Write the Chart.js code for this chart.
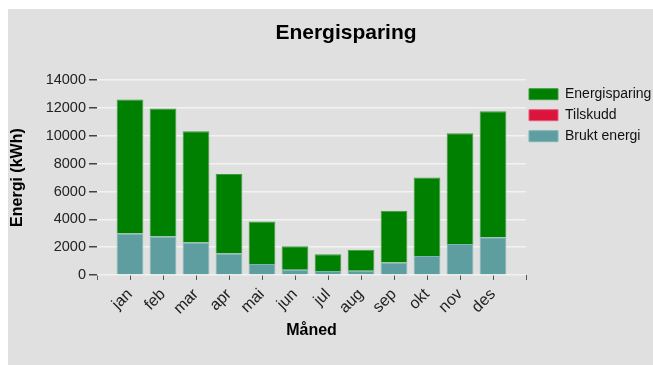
<!DOCTYPE html>
<html>
<head>
<meta charset="utf-8">
<script src="https://cdn.jsdelivr.net/npm/chart.js@4"></script>
<style>
    html, body { margin: 0; padding: 0; background: #fff; overflow: hidden; }
    #panel {
        position: absolute;
        left: 8px;
        top: 9px;
        width: 676px;
        height: 356px;
        background: #e0e0e0;
    }
</style>
</head>
<body>
<div id="panel"><canvas id="chartEnergi"></canvas></div>
<script>
// data (kWh per month)
const maaneder = ['jan', 'feb', 'mar', 'apr', 'mai', 'jun', 'jul', 'aug', 'sep', 'okt', 'nov', 'des'];
const bruktEnergi = [2980, 2760, 2330, 1540, 790, 380, 290, 310, 890, 1370, 2230, 2710];
const tilskudd = [0, 0, 0, 0, 0, 0, 0, 0, 0, 0, 0, 0];
const energisparing = [9630, 9200, 8000, 5710, 3050, 1680, 1200, 1510, 3720, 5640, 7950, 9060];
const yTicks = [0, 2000, 4000, 6000, 8000, 10000, 12000, 14000];

const FONT = "'Liberation Sans', Arial, sans-serif";
const LEGEND_WIDTH = 158;

// empty slot at each end so the axis runs past jan and des
function pad(arr, fill) { return [fill, ...arr, fill]; }

// legend keeps a fixed width so the plot stops where the reference does,
// and sits a little closer to the plot than its row padding would put it
const fixedLegend = {
    id: 'fixedLegend',
    beforeLayout(chart) {
        const lg = chart.legend;
        if (!lg || lg._fixed) return;
        const fit = lg.fit;
        lg.fit = function () {
            fit.call(this);
            this.width = LEGEND_WIDTH;
        };
        lg._fixed = true;
    },
    afterLayout(chart) {
        const lg = chart.legend;
        if (!lg) return;
        lg.left -= 4;
        lg.right -= 4;
    }
};

function makeChart() {
    const ctx = document.getElementById('chartEnergi').getContext('2d');
    return new Chart(ctx, {
        type: 'bar',
        data: {
            labels: pad(maaneder, ''),
            datasets: [
                { label: 'Brukt energi', data: pad(bruktEnergi, null), backgroundColor: '#5f9ea0', borderColor: '#7fb3b5', borderWidth: 1 },
                { label: 'Tilskudd', data: pad(tilskudd, null), backgroundColor: '#dc143c', borderColor: '#e8587a', borderWidth: 1 },
                { label: 'Energisparing', data: pad(energisparing, null), backgroundColor: '#008000', borderColor: '#3f9a3f', borderWidth: 1 }
            ]
        },
        plugins: [fixedLegend],
        options: {
            responsive: true,
            maintainAspectRatio: false,
            animation: false,
            categoryPercentage: 1,
            barPercentage: 0.81,
            layout: { padding: 0 },
            plugins: {
                tooltip: { enabled: false },
                title: {
                    display: true,
                    text: 'Energisparing',
                    color: '#000',
                    font: { family: FONT, size: 21, weight: 'bold' },
                    padding: { top: 12, bottom: 34 }
                },
                legend: {
                    position: 'right',
                    align: 'start',
                    fullSize: false,
                    reverse: true,
                    labels: {
                        boxWidth: 29,
                        boxHeight: 11,
                        padding: 7,
                        color: '#111',
                        font: { family: FONT, size: 14 }
                    }
                }
            },
            scales: {
                x: {
                    stacked: true,
                    offset: false,
                    border: { display: false },
                    grid: { offset: false, drawOnChartArea: false, drawTicks: true, tickLength: 5, tickColor: '#555' },
                    ticks: {
                        autoSkip: false,
                        maxRotation: 45,
                        minRotation: 45,
                        padding: 5,
                        color: '#222',
                        font: { family: FONT, size: 16 }
                    },
                    title: {
                        display: true,
                        text: 'Måned',
                        color: '#000',
                        font: { family: FONT, size: 16, weight: 'bold' },
                        padding: { top: 0, bottom: 25 }
                    },
                    afterFit(scale) { scale.height = 90; }
                },
                y: {
                    stacked: true,
                    min: 0,
                    max: 14000,
                    border: { display: false },
                    afterBuildTicks(scale) { scale.ticks = yTicks.map(v => ({ value: v })); },
                    grid: { color: '#f2f2f2', lineWidth: 1.5, tickLength: 8, tickColor: '#444' },
                    ticks: {
                        padding: 3,
                        color: '#222',
                        font: { family: FONT, size: 14.5 },
                        callback: (v) => String(v)
                    },
                    title: {
                        display: true,
                        text: 'Energi (kWh)',
                        color: '#000',
                        font: { family: FONT, size: 16, weight: 'bold' },
                        padding: { top: 0, bottom: 0 }
                    },
                    afterFit(scale) { scale.width = 89; }
                }
            }
        }
    });
}

document.addEventListener('DOMContentLoaded', () => {
    if (typeof Chart === 'undefined') {
        console.error('Chart.js not loaded');
        return;
    }
    makeChart();
});
</script>
</body>
</html>
